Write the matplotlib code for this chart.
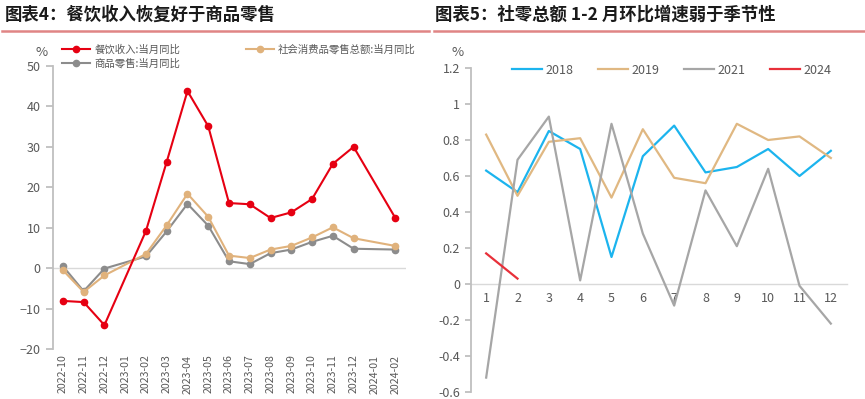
import numpy as np
import matplotlib
matplotlib.use("Agg")
import matplotlib.pyplot as plt

plt.rcParams['font.family'] = ['Noto Sans CJK SC', 'DejaVu Sans']

# ---------------- data: left chart ----------------
months = ["2022-10", "2022-11", "2022-12", "2023-01", "2023-02", "2023-03", "2023-04",
          "2023-05", "2023-06", "2023-07", "2023-08", "2023-09", "2023-10", "2023-11",
          "2023-12", "2024-01", "2024-02"]
catering = [-8.1, -8.4, -14.1, None, 9.2, 26.3, 43.8, 35.1, 16.1, 15.8, 12.4, 13.8, 17.1, 25.8, 30.0, None, 12.5]
retail_total = [-0.5, -5.9, -1.8, None, 3.5, 10.6, 18.4, 12.7, 3.1, 2.5, 4.6, 5.5, 7.6, 10.1, 7.4, None, 5.5]
goods_retail = [0.5, -5.7, -0.1, None, 2.9, 9.1, 15.9, 10.5, 1.7, 1.0, 3.7, 4.6, 6.5, 8.0, 4.8, None, 4.6]
left_labels = ["餐饮收入:当月同比", "商品零售:当月同比", "社会消费品零售总额:当月同比"]

# ---------------- data: right chart ----------------
mon_idx = list(range(1, 13))
y2018 = [0.63, 0.51, 0.85, 0.75, 0.15, 0.71, 0.88, 0.62, 0.65, 0.75, 0.60, 0.74]
y2019 = [0.83, 0.49, 0.79, 0.81, 0.48, 0.86, 0.59, 0.56, 0.89, 0.80, 0.82, 0.70]
y2021 = [-0.52, 0.69, 0.93, 0.02, 0.89, 0.28, -0.12, 0.52, 0.21, 0.64, -0.01, -0.22]
y2024 = [0.17, 0.03]
year_labels = ["2018", "2019", "2021", "2024"]

TICK = '#595959'
fig = plt.figure(figsize=(8.65, 3.99), dpi=100)

# titles and underline
fig.text(5 / 865, 1 - 15 / 399, "图表4：餐饮收入恢复好于商品零售", fontsize=12.5, fontweight='bold',
         color='#1a1a1a', va='center', ha='left')
fig.text(435 / 865, 1 - 15 / 399, "图表5：社零总额 1-2 月环比增速弱于季节性", fontsize=12.5, fontweight='bold',
         color='#1a1a1a', va='center', ha='left')
fig.add_artist(plt.Line2D([2 / 865, 429 / 865], [1 - 31 / 399] * 2, color='#E08585', lw=1.8))
fig.add_artist(plt.Line2D([434 / 865, 1.0], [1 - 31 / 399] * 2, color='#E08585', lw=1.8))


def series_xy(vals):
    xs = [i for i, v in enumerate(vals) if v is not None]
    ys = [v for v in vals if v is not None]
    return xs, ys


# ---------------- left axes ----------------
axL = fig.add_axes([52.5 / 865, 1 - 349 / 399, 353 / 865, (349 - 66) / 399])
axL.set_xlim(-0.5, len(months) - 0.5)
axL.set_ylim(-20, 50)
axL.axhline(0, color='#D9D9D9', lw=1, zorder=0)
cols = ['#E60012', '#8C8C8C', '#E0B27C']
series = [catering, goods_retail, retail_total]
handles = []
for vals, c, lab, z in zip(series, cols, left_labels, [3, 2, 2.5]):
    xs, ys = series_xy(vals)
    h, = axL.plot(xs, ys, color=c, lw=1.5, marker='o', markersize=4.5, label=lab, zorder=z)
    handles.append(h)
for s in ['top', 'right', 'bottom']:
    axL.spines[s].set_visible(False)
axL.spines['left'].set_color('#BFBFBF')
axL.spines['left'].set_linewidth(1.3)
axL.set_yticks(np.arange(-20, 51, 10))
axL.tick_params(axis='y', colors='#BFBFBF', labelcolor=TICK, labelsize=9, length=5, width=1.3)
axL.set_xticks(range(len(months)))
axL.set_xticklabels(months, rotation=90)
axL.tick_params(axis='x', length=0, labelcolor=TICK, labelsize=7.6, pad=4)
fig.text(42 / 865, 1 - 52 / 399, "%", fontsize=9.5, color=TICK, ha='center', va='center')
axL.legend(handles=handles, loc='upper left', bbox_to_anchor=(62 / 865, 1 - 44 / 399),
           bbox_transform=fig.transFigure, ncol=2, frameon=False, fontsize=7.5,
           handlelength=2.7, handletextpad=0.4, columnspacing=6.3, labelspacing=0.35,
           labelcolor=TICK, borderaxespad=0, borderpad=0)

# ---------------- right axes ----------------
axR = fig.add_axes([470.5 / 865, 1 - 392 / 399, 376 / 865, (392 - 68) / 399])
axR.set_xlim(0.5, 12.5)
axR.set_ylim(-0.6, 1.2)
rcols = ['#1CB4EE', '#E0B882', '#A6A6A6', '#E8303A']
rdata = [y2018, y2019, y2021, y2024]
rh = []
for vals, c, lab in zip(rdata, rcols, year_labels):
    h, = axR.plot(mon_idx[:len(vals)], vals, color=c, lw=1.6, label=lab)
    rh.append(h)
for s in ['top', 'right']:
    axR.spines[s].set_visible(False)
axR.spines['bottom'].set_position(('data', 0))
axR.spines['bottom'].set_color('#D9D9D9')
axR.spines['bottom'].set_linewidth(1)
axR.spines['bottom'].set_zorder(0)
axR.spines['left'].set_color('#BFBFBF')
axR.spines['left'].set_linewidth(1.3)
axR.set_yticks(np.round(np.arange(-0.6, 1.21, 0.2), 1))
axR.set_yticklabels(["-0.6", "-0.4", "-0.2", "0", "0.2", "0.4", "0.6", "0.8", "1", "1.2"])
axR.tick_params(axis='y', colors='#BFBFBF', labelcolor=TICK, labelsize=9, length=4, width=1.3)
axR.set_xticks(mon_idx)
axR.tick_params(axis='x', length=0, labelcolor=TICK, labelsize=9, pad=6)
fig.text(458 / 865, 1 - 52 / 399, "%", fontsize=9.5, color=TICK, ha='center', va='center')
axR.legend(handles=rh, loc='center left', bbox_to_anchor=(512 / 865, 1 - 70 / 399),
           bbox_transform=fig.transFigure, ncol=4, frameon=False, fontsize=9,
           handlelength=2.4, handletextpad=0.25, columnspacing=2.0,
           labelcolor=TICK, borderaxespad=0, borderpad=0)

fig.savefig("out.png", dpi=100)
